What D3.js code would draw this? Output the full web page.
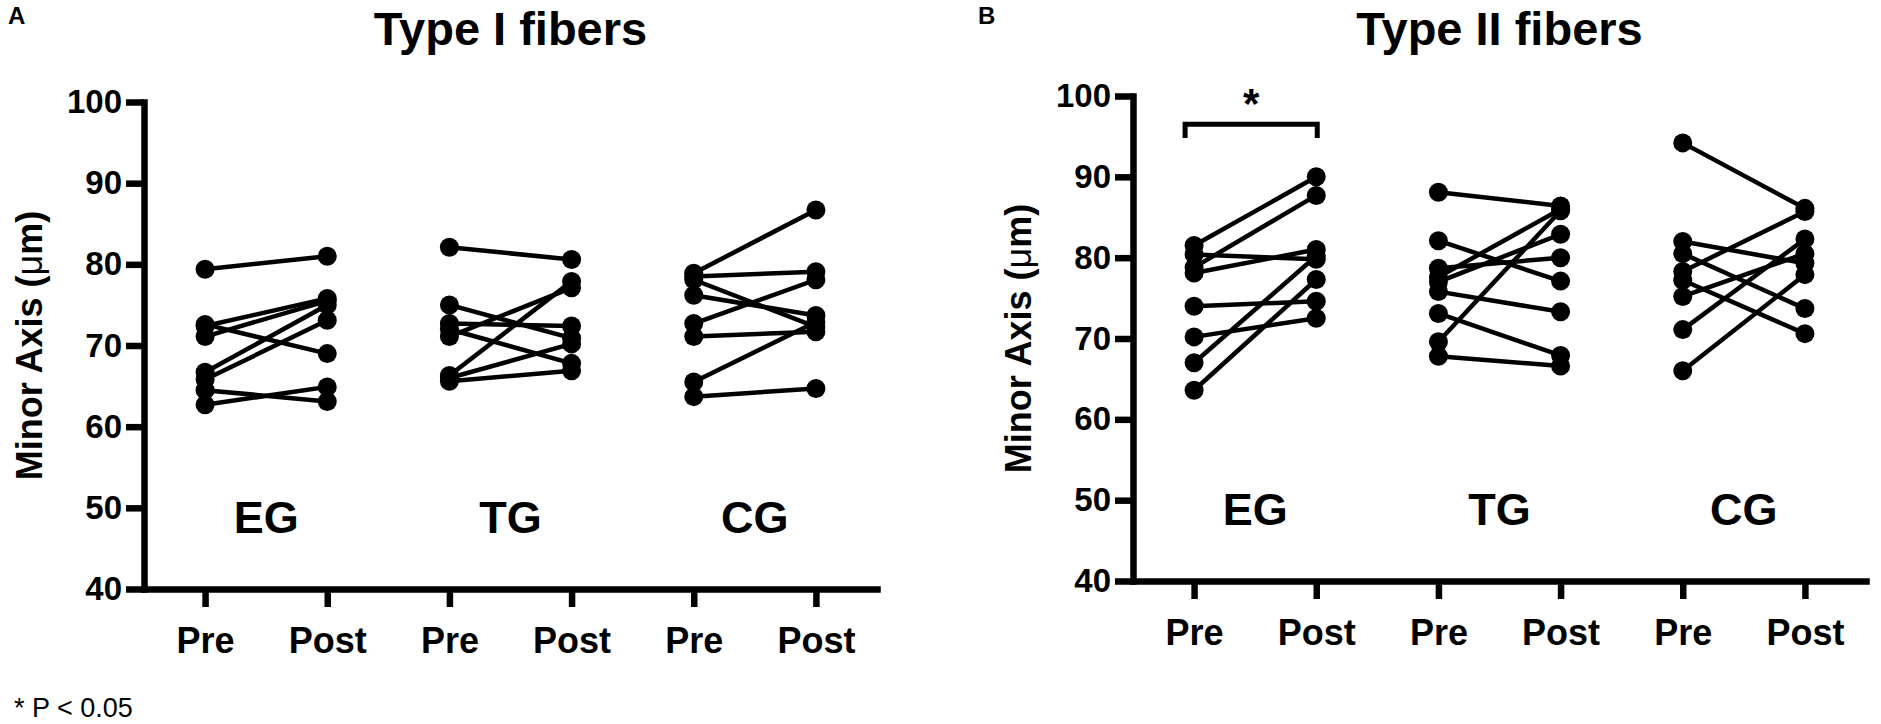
<!DOCTYPE html>
<html>
<head>
<meta charset="utf-8">
<script src="https://cdn.jsdelivr.net/npm/d3@7.9.0/dist/d3.min.js"></script>
<style>
  html, body { margin: 0; padding: 0; background: #fff; }
  svg { display: block; font-family: "Liberation Sans", Arial, Helvetica, sans-serif; }
  .tick text { font-weight: bold; }
</style>
</head>
<body>
<svg id="chart" width="1881" height="724"></svg>
<script>
// categories & ticks
const groups = ["EG", "TG", "CG"];
const conditions = ["Pre", "Post"];
const yTicks = [40, 50, 60, 70, 80, 90, 100];

// Type I fibers (minor axis, µm), paired pre -> post
const typeI_EG_pre  = [79.4, 72.6, 72.4, 71.1, 66.7, 65.8, 64.5, 62.7];
const typeI_EG_post = [81.0, 69.0, 75.8, 75.5, 75.0, 73.1, 63.1, 64.9];
const typeI_TG_pre  = [82.1, 75.0, 72.7, 72.0, 71.1, 66.3, 66.0, 65.6];
const typeI_TG_post = [80.6, 70.9, 72.4, 67.8, 77.1, 77.9, 70.2, 66.9];
const typeI_CG_pre  = [78.9, 78.5, 78.1, 76.2, 72.7, 71.1, 65.5, 63.7];
const typeI_CG_post = [86.7, 79.1, 72.3, 73.7, 78.1, 71.7, 72.9, 64.7];

// Type II fibers
const typeII_EG_pre  = [81.5, 78.8, 80.4, 78.1, 74.0, 70.2, 67.0, 63.6];
const typeII_EG_post = [90.0, 87.7, 79.8, 81.0, 74.6, 72.5, 80.2, 77.3];
const typeII_TG_pre  = [88.1, 82.1, 78.7, 77.6, 77.0, 75.8, 73.1, 69.6, 67.8];
const typeII_TG_post = [86.4, 77.1, 80.0, 86.0, 82.9, 73.3, 67.9, 85.8, 66.6];
const typeII_CG_pre  = [94.2, 82.0, 80.5, 78.3, 77.2, 75.2, 71.1, 66.0];
const typeII_CG_post = [86.1, 79.3, 73.7, 85.7, 70.6, 80.5, 82.3, 77.9];

// significance bracket (panel B, EG)
const sigGroup = "EG";
const sigLevel = 96.5;
const sigDrop = 1.7;

const typeI = {
  EG: [typeI_EG_pre, typeI_EG_post],
  TG: [typeI_TG_pre, typeI_TG_post],
  CG: [typeI_CG_pre, typeI_CG_post]
};
const typeII = {
  EG: [typeII_EG_pre, typeII_EG_post],
  TG: [typeII_TG_pre, typeII_TG_post],
  CG: [typeII_CG_pre, typeII_CG_post]
};

const svg = d3.select("#chart");
const AXIS_W = 6.5;

// panel layout
const panels = [
  { letter: "A", letterX: 8, title: "Type I fibers", left: 144, right: 877, top: 102, bottom: 589, data: typeI, sig: false },
  { letter: "B", letterX: 978, title: "Type II fibers", left: 1133, right: 1866, top: 96, bottom: 581, data: typeII, sig: true }
];

panels.forEach(p => drawPanel(p));

svg.append("text")
  .attr("x", 14).attr("y", 717)
  .attr("font-size", 27)
  .text("* P < 0.05");

function drawPanel(p) {
  const g = svg.append("g");

  // keys like "EG|Pre" so each tick is unique
  const keys = groups.flatMap(gr => conditions.map(c => gr + "|" + c));
  const x = d3.scalePoint().domain(keys).range([p.left, p.right]).padding(0.5);
  const y = d3.scaleLinear().domain([40, 100]).range([p.bottom, p.top]);

  // panel letter and title
  g.append("text")
    .attr("x", p.letterX).attr("y", 24)
    .attr("font-size", 24).attr("font-weight", "bold")
    .text(p.letter);

  g.append("text")
    .attr("x", (p.left + p.right) / 2).attr("y", 45)
    .attr("text-anchor", "middle")
    .attr("font-size", 47).attr("font-weight", "bold")
    .text(p.title);

  // y axis
  const yAxis = g.append("g")
    .attr("transform", `translate(${p.left},0)`)
    .call(d3.axisLeft(y).tickValues(yTicks).tickSize(18).tickSizeOuter(0).tickPadding(4));
  yAxis.selectAll("path, line").attr("stroke", "#000").attr("stroke-width", AXIS_W).attr("stroke-linecap", "square");
  yAxis.selectAll("line").attr("stroke-linecap", "butt");
  yAxis.selectAll("text").attr("font-size", 33).attr("fill", "#000")
    .attr("font-family", "'Liberation Sans', Arial, sans-serif");

  // x axis
  const xAxis = g.append("g")
    .attr("transform", `translate(0,${p.bottom})`)
    .call(d3.axisBottom(x).tickSize(18).tickSizeOuter(0).tickPadding(20)
      .tickFormat(k => k.split("|")[1]));
  xAxis.selectAll("path").attr("stroke", "#000").attr("stroke-width", AXIS_W).attr("stroke-linecap", "square");
  xAxis.selectAll("line").attr("stroke", "#000").attr("stroke-width", AXIS_W);
  xAxis.selectAll("text").attr("font-size", 36).attr("fill", "#000")
    .attr("font-family", "'Liberation Sans', Arial, sans-serif");

  // y axis title
  const ty = g.append("text")
    .attr("transform", `translate(${p.left - 102},${(p.top + p.bottom) / 2}) rotate(-90)`)
    .attr("text-anchor", "middle")
    .attr("font-size", 36).attr("font-weight", "bold");
  ty.append("tspan").text("Minor Axis (");
  ty.append("tspan").attr("font-weight", "normal").text("\u03bc");
  ty.append("tspan").text("m)");

  // group labels
  g.selectAll(".grp")
    .data(groups)
    .join("text")
    .attr("class", "grp")
    .attr("x", gr => (x(gr + "|Pre") + x(gr + "|Post")) / 2)
    .attr("y", p.bottom - 56)
    .attr("text-anchor", "middle")
    .attr("font-size", 45).attr("font-weight", "bold")
    .text(gr => gr);

  // paired lines and dots
  const line = d3.line();
  groups.forEach(gr => {
    const [pre, post] = p.data[gr];
    const x0 = x(gr + "|Pre"), x1 = x(gr + "|Post");
    const pairs = pre.map((v, i) => [[x0, y(v)], [x1, y(post[i])]]);

    g.append("g").selectAll("path")
      .data(pairs)
      .join("path")
      .attr("d", line)
      .attr("stroke", "#000")
      .attr("stroke-width", 4.5)
      .attr("fill", "none");

    const pts = pre.map(v => [x0, y(v)]).concat(post.map(v => [x1, y(v)]));
    g.append("g").selectAll("circle")
      .data(pts)
      .join("circle")
      .attr("cx", d => d[0])
      .attr("cy", d => d[1])
      .attr("r", 9.5)
      .attr("fill", "#000");
  });

  // significance bracket
  if (p.sig) {
    const bx0 = x(sigGroup + "|Pre") - 9;
    const bx1 = x(sigGroup + "|Post") + 1;
    const by = y(sigLevel), byd = y(sigLevel - sigDrop);
    g.append("path")
      .attr("d", `M${bx0},${byd} L${bx0},${by} L${bx1},${by} L${bx1},${byd}`)
      .attr("stroke", "#000").attr("stroke-width", 5).attr("fill", "none");
    g.append("text")
      .attr("x", (bx0 + bx1) / 2).attr("y", by - 6)
      .attr("text-anchor", "middle")
      .attr("font-size", 42).attr("font-weight", "bold")
      .text("*");
  }
}
</script>
</body>
</html>
